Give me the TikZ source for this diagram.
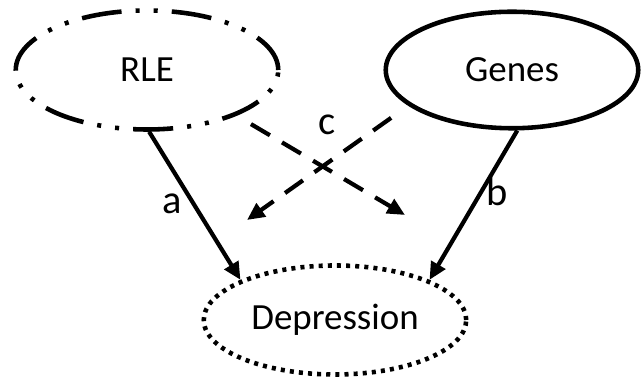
\documentclass[tikz,border=0pt]{standalone}
\usepackage{fontspec}
\setmainfont{Carlito}
\usetikzlibrary{shapes.geometric, arrows.meta}

\begin{document}
\begin{tikzpicture}[
    var/.style = {
        draw=black,
        ellipse,
        line width=2.6pt,
        font=\fontsize{21}{24}\selectfont,
    },
    effect/.style = {
        -{Triangle[length=10pt, width=9pt]},
        draw=black,
        line width=2.4pt,
    },
    cross/.style = {
        effect,
        dash pattern=on 12.5pt off 8pt,
    },
    path label/.style = {
        font=\fontsize{23}{26}\selectfont,
        inner sep=0pt,
    },
]
\useasboundingbox (0, 0) rectangle (12.86, 7.6);
% the three variables
\node (rle) [var, minimum width=5.25cm, minimum height=2.38cm,
    dash pattern=on 22.8pt off 8pt on 2.3pt off 8pt on 2.3pt off 8pt]
    at (2.94, 6.2) {RLE};
\node (genes) [var, minimum width=5.05cm, minimum height=2.33cm] at (10.24, 6.2) {Genes};
\node (dep) [var, minimum width=5.25cm, minimum height=2.18cm,
    dash pattern=on 2.3pt off 2.9pt] at (6.7, 1.2) {Depression};
% direct paths
\draw [effect] (rle.272) -- (dep.157);
\draw [effect] (genes.275) -- (dep.23);
% crossed paths
\coordinate (rle-end) at (8.1, 3.3);
\coordinate (genes-end) at (4.94, 3.2);
\draw [cross, shorten <=0.33cm] (rle.333) -- (rle-end);
\draw [cross, shorten <=0.42cm] (genes.199) -- (genes-end);
% labels
\node (a) [path label] at (3.44, 3.52) {a};
\node (b) [path label] at (9.94, 3.76) {b};
\node (c) [path label] at (6.54, 5.1) {c};
\end{tikzpicture}
\end{document}
